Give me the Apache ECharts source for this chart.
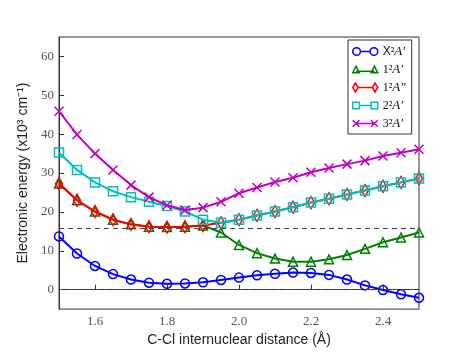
<!DOCTYPE html>
<html>
<head>
<meta charset="utf-8">
<script src="https://cdn.jsdelivr.net/npm/echarts@6/dist/echarts.min.js"></script>
<style>
  html, body { margin: 0; padding: 0; background: #fff; }
  #chart { width: 467px; height: 352px; }
</style>
</head>
<body>
<div id="chart"></div>
<script>
// C-Cl distance (Angstrom)
var distance = [1.50, 1.55, 1.60, 1.65, 1.70, 1.75, 1.80, 1.85, 1.90, 1.95, 2.00,
                2.05, 2.10, 2.15, 2.20, 2.25, 2.30, 2.35, 2.40, 2.45, 2.50];

// energies, x10^3 cm^-1
var stateX = [13.7, 9.3, 6.1, 4.0, 2.6, 1.8, 1.5, 1.6, 1.9, 2.5, 3.1,
              3.7, 4.1, 4.4, 4.3, 3.8, 2.6, 1.1, -0.1, -1.2, -2.1];
var state1A1 = [27.3, 23.0, 20.1, 18.0, 16.8, 16.2, 16.1, 16.2, 16.5, 14.7, 11.5,
                9.4, 8.0, 7.2, 7.2, 7.8, 8.9, 10.5, 12.2, 13.4, 14.7];
var state1A2 = [27.3, 23.0, 20.1, 18.0, 16.8, 16.2, 16.1, 16.2, 16.5, 17.2, 18.0,
                19.1, 20.1, 21.2, 22.4, 23.4, 24.5, 25.5, 26.6, 27.6, 28.6];
var state2A1 = [35.3, 30.8, 27.6, 25.3, 23.8, 22.6, 21.5, 20.1, 18.0, 17.2, 18.0,
                19.1, 20.1, 21.2, 22.4, 23.4, 24.5, 25.5, 26.6, 27.6, 28.6];
var state3A1 = [45.9, 39.9, 35.0, 30.8, 26.9, 23.8, 21.7, 20.5, 21.1, 22.6, 24.8,
                26.3, 27.7, 28.8, 30.2, 31.3, 32.3, 33.2, 34.4, 35.2, 36.1];

var yTicks = [0, 10, 20, 30, 40, 50, 60];
var xTicks = [1.6, 1.8, 2.0, 2.2, 2.4];
var refLevels = [0, 15.8];

var names = ['X2A1', '1A1', '1A2', '2A1', '3A1'];
var labels = {
  'X2A1': '{x|X}{n|²}{i|A′}',
  '1A1': '{n|1²}{i|A′}',
  '1A2': '{n|1²}{i|A″}',
  '2A1': '{n|2²}{i|A′}',
  '3A1': '{n|3²}{i|A′}'
};
var colors = ['#0000ff', '#008000', '#ff0000', '#00bfbf', '#bf00bf'];
var values = [stateX, state1A1, state1A2, state2A1, state3A1];
var symbols = ['circle', 'triangle', 'diamond', 'rect', 'path://M0,0L10,10M10,0L0,10'];
var sizes = [9, 9, [7, 12], 9, 9];
var icons = [
  'path://M2,5A4,4,0,1,1,10,5A4,4,0,1,1,2,5M20,5A4,4,0,1,1,28,5A4,4,0,1,1,20,5M10,5L20,5',
  'path://M0,9L4,1L8,9ZM22,9L26,1L30,9ZM4,7L26,7',
  'path://M4,0L7,5L4,10L1,5ZM26,0L29,5L26,10L23,5ZM7,5L23,5',
  'path://M0,1L8,1L8,9L0,9ZM22,1L30,1L30,9L22,9ZM8,5L22,5',
  'path://M0,1L8,9M0,9L8,1M22,1L30,9M22,9L30,1M4,5L26,5'
];

var series = [];
var legendData = [];
for (var i = 0; i < names.length; i++) {
  var pts = [];
  for (var j = 0; j < distance.length; j++) pts.push([distance[j], values[i][j]]);
  series.push({
    name: names[i],
    type: 'line',
    data: pts,
    symbol: symbols[i],
    symbolSize: sizes[i],
    showAllSymbol: true,
    lineStyle: { color: colors[i], width: 2 },
    itemStyle: { color: 'rgba(0,0,0,0)', borderColor: colors[i], borderWidth: 1.5 },
    emphasis: { disabled: true },
    z: 2 + i
  });
  legendData.push({
    name: names[i],
    icon: icons[i],
    itemStyle: { color: 'rgba(0,0,0,0)', borderColor: colors[i], borderWidth: 1.5 }
  });
}
// dashed reference lines
series[0].markLine = {
  silent: true,
  symbol: 'none',
  label: { show: false },
  lineStyle: { color: '#444', type: [5, 4], width: 1 },
  data: refLevels.map(function (v) { return { yAxis: v }; })
};

var chart = echarts.init(document.getElementById('chart'));
chart.setOption({
  animation: false,
  backgroundColor: '#fff',
  grid: {
    left: 59, right: 48, top: 37, bottom: 35,
    show: true, borderColor: '#333', borderWidth: 1, backgroundColor: 'transparent'
  },
  xAxis: {
    type: 'value',
    min: 1.5, max: 2.5,
    name: 'C-Cl internuclear distance (Å)',
    nameLocation: 'middle',
    nameGap: 20,
    nameTextStyle: { fontFamily: 'Liberation Sans', fontSize: 14, color: '#222' },
    axisLine: { show: true, lineStyle: { color: '#333' } },
    axisTick: { show: true, inside: true, length: 5, lineStyle: { color: '#333' }, customValues: xTicks },
    axisLabel: {
      fontFamily: 'Liberation Serif', fontSize: 13, color: '#555', margin: 6,
      customValues: xTicks,
      formatter: function (v) { return v.toFixed(1); }
    },
    splitLine: { show: false }
  },
  yAxis: {
    type: 'value',
    min: -5, max: 65,
    name: 'Electronic energy (x10³ cm⁻¹)',
    nameLocation: 'middle',
    nameGap: 25,
    nameTextStyle: { fontFamily: 'Liberation Sans', fontSize: 14, color: '#222' },
    axisLine: { show: true, lineStyle: { color: '#333' } },
    axisTick: { show: true, inside: true, length: 5, lineStyle: { color: '#333' }, customValues: yTicks },
    axisLabel: { fontFamily: 'Liberation Serif', fontSize: 13, color: '#555', margin: 5, customValues: yTicks },
    splitLine: { show: false }
  },
  legend: {
    orient: 'vertical',
    left: 348, top: 40,
    padding: [5, 6, 4, 4],
    itemWidth: 25, itemHeight: 10, itemGap: 5,
    backgroundColor: '#fff',
    borderColor: '#333', borderWidth: 1, borderRadius: 0,
    data: legendData,
    formatter: function (name) { return labels[name]; },
    textStyle: {
      rich: {
        x: { fontFamily: 'Liberation Sans', fontSize: 12, color: '#111' },
        n: { fontFamily: 'Liberation Serif', fontSize: 12, color: '#111' },
        i: { fontFamily: 'Liberation Serif', fontStyle: 'italic', fontSize: 13, color: '#111' }
      }
    }
  },
  series: series
});
</script>
</body>
</html>
